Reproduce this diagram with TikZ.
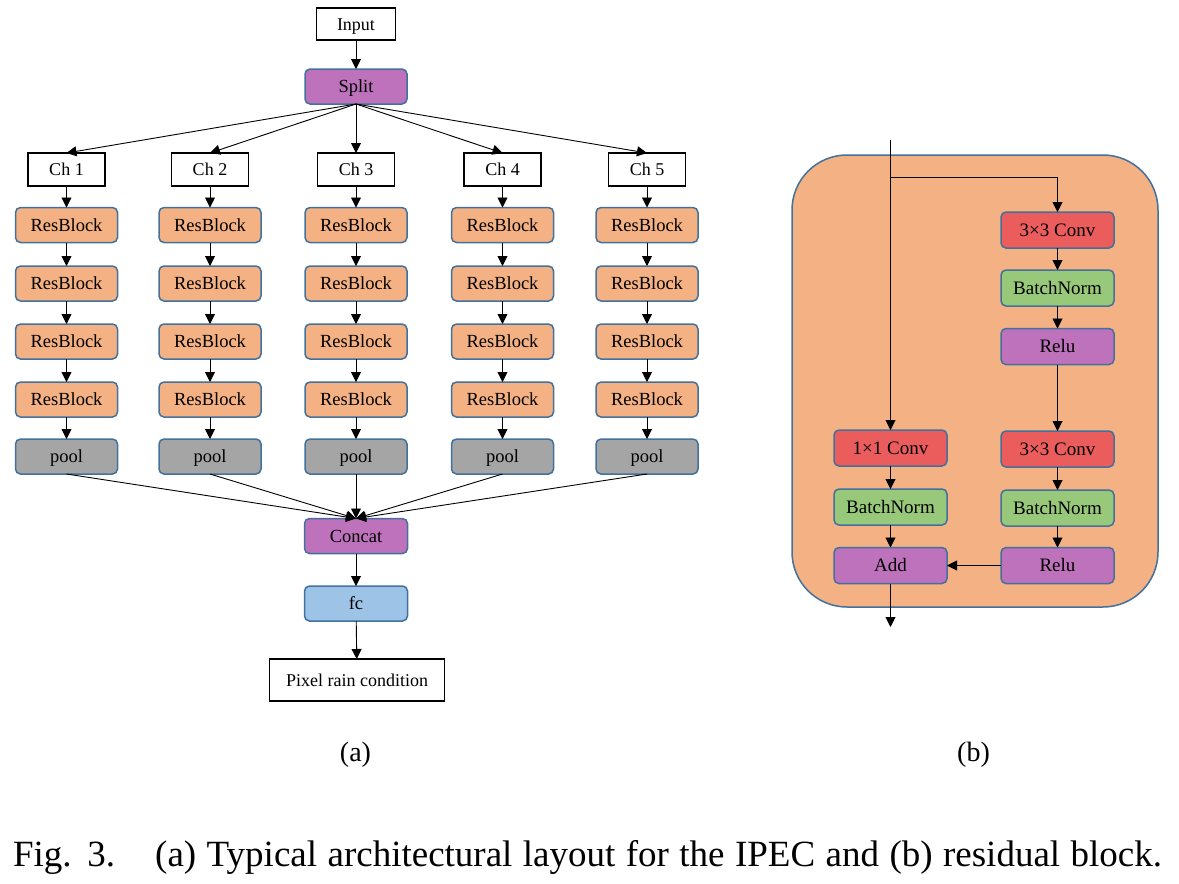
\documentclass[tikz,border=0pt]{standalone}
\usepackage{fontspec}
\setmainfont{Liberation Serif}
\usetikzlibrary{arrows.meta}
\definecolor{bordc}{HTML}{41719C}
\definecolor{orangef}{HTML}{F4B183}
\definecolor{purplef}{HTML}{BF72BC}
\definecolor{grayf}{HTML}{A5A5A5}
\definecolor{bluef}{HTML}{9DC3E6}
\definecolor{redf}{HTML}{EB5C5C}
\definecolor{greenf}{HTML}{98C879}
\begin{document}
\begin{tikzpicture}[x=1pt,y=-1pt,
  every node/.style={inner sep=0pt, outer sep=0pt},
  capc/.style={text height=12.3pt, text depth=0pt},
  plainbox/.style={capc, draw=black, line width=1.4pt, fill=white, font=\fontsize{18}{21}\selectfont},
  colbox/.style={capc, draw=bordc, line width=1.5pt, rounded corners=5pt, font=\fontsize{18.5}{21}\selectfont, minimum width=102pt, minimum height=35pt},
  rbox/.style={capc, draw=bordc, line width=1.5pt, rounded corners=5pt, font=\fontsize{19}{22}\selectfont, minimum width=113pt, minimum height=36pt},
  conn/.style={draw=black, line width=0.9pt, -{Triangle[length=10pt,width=10pt]}},
  lbl/.style={font=\fontsize{28}{32}\selectfont}
]
\useasboundingbox (0,0) rectangle (1179,884);

% ---------- panel (a) ----------
\node[plainbox, minimum width=79pt, minimum height=32pt] (in) at (356,24) {Input};
\node[colbox, fill=purplef] (split) at (356,86.5) {Split};

\foreach \i/\x in {1/66.5,2/210,3/356,4/502.5,5/647}{
  \node[plainbox, minimum width=77pt, minimum height=33pt] (ch\i) at (\x,169.5) {Ch \i};
  \node[colbox, fill=orangef] (rbA\i) at (\x,225) {ResBlock};
  \node[colbox, fill=orangef] (rbB\i) at (\x,283.5) {ResBlock};
  \node[colbox, fill=orangef] (rbC\i) at (\x,341.5) {ResBlock};
  \node[colbox, fill=orangef] (rbD\i) at (\x,399.5) {ResBlock};
  \node[colbox, fill=grayf] (pool\i) at (\x,456.5) {pool};
}

\node[colbox, fill=purplef, minimum width=103pt] (concat) at (356,536) {Concat};
\node[colbox, fill=bluef, minimum width=103pt] (fc) at (356,603.5) {fc};
\node[plainbox, minimum width=175pt, minimum height=42pt] (prc) at (357,680) {Pixel rain condition};

\draw[conn] (in) -- (split);
\foreach \i in {1,...,5}{
  \draw[conn] (split.south) -- (ch\i.north);
  \draw[conn] (ch\i) -- (rbA\i);
  \draw[conn] (rbA\i) -- (rbB\i);
  \draw[conn] (rbB\i) -- (rbC\i);
  \draw[conn] (rbC\i) -- (rbD\i);
  \draw[conn] (rbD\i) -- (pool\i);
  \draw[conn] (pool\i.south) -- (concat.north);
}
\draw[conn] (concat) -- (fc);
\draw[conn] (fc) -- (prc);

\node[lbl] (la) at (355.5,755) {(a)};

% ---------- panel (b) ----------
\draw[draw=bordc, fill=orangef, line width=1.5pt, rounded corners=55pt] (792,155) rectangle (1158,607);

\node[rbox, fill=redf] (c1) at (1057.5,230) {3×3 Conv};
\node[rbox, fill=greenf] (b1) at (1057.5,288) {BatchNorm};
\node[rbox, fill=purplef] (r1) at (1057.5,346.5) {Relu};
\node[rbox, fill=redf] (c2) at (1057.5,449) {3×3 Conv};
\node[rbox, fill=greenf] (b2) at (1057.5,508) {BatchNorm};
\node[rbox, fill=purplef] (r2) at (1057.5,565.5) {Relu};

\node[rbox, fill=redf] (c0) at (890.5,448) {1×1 Conv};
\node[rbox, fill=greenf] (b0) at (890.5,507) {BatchNorm};
\node[rbox, fill=purplef] (add) at (890.5,565.5) {Add};

\coordinate (top) at (890.5,140);
\coordinate (br) at (890.5,177);
\coordinate (out) at (890.5,627);

\draw[conn] (top) -- (c0.north);
\draw[conn] (br) -| (c1.north);
\draw[conn] (c1) -- (b1);
\draw[conn] (b1) -- (r1);
\draw[conn] (r1) -- (c2);
\draw[conn] (c2) -- (b2);
\draw[conn] (b2) -- (r2);
\draw[conn] (c0) -- (b0);
\draw[conn] (b0) -- (add);
\draw[conn] (r2) -- (add);
\draw[conn] (add) -- (out);

\node[lbl] (lb) at (973.5,755) {(b)};

% ---------- caption ----------
\node[anchor=base west, font=\fontsize{37}{42}\selectfont] (cap) at (13,866)
  {\makebox[1149pt][s]{Fig. 3.\hspace{40pt}(a) Typical architectural layout for the IPEC and (b) residual block.}};
\end{tikzpicture}
\end{document}
